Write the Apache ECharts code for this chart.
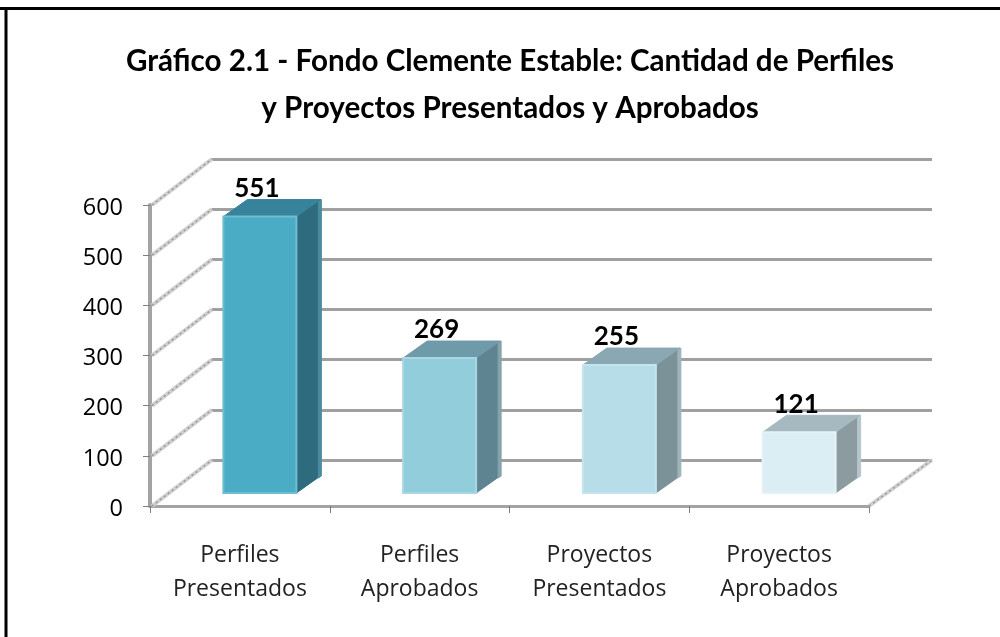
<!DOCTYPE html>
<html><head><meta charset="utf-8">
<style>html,body{margin:0;padding:0;background:#fff}#c{width:1000px;height:637px}</style>
<script src="https://cdn.jsdelivr.net/npm/echarts@6/dist/echarts.min.js"></script>
</head><body><div id="c"></div>
<script>
const categories = ['Perfiles\nPresentados','Perfiles\nAprobados','Proyectos\nPresentados','Proyectos\nAprobados'];
const values = [551,269,255,121];
const tickValues = [0,100,200,300,400,500,600];
const frontColors = ['#4bacc6','#92cddc','#b7dde8','#dbeef4'];
const topColors = ['#37839b','#6f9aa9','#8aa8b2','#a6b9c0'];
const sideColors = ['#2f6b7f','#5e8391','#7b9299','#8b9ba0'];
const edgeColors = ['#6fbdd1','#a8d7e3','#c6e4ed','#e4f2f7'];
const stripColors = ['#4a8c9f','#84a3ae','#9db4bb','#b4c6cb'];
const FONT = 'Lato, "Open Sans", sans-serif';
const LABEL_FONT = '"Open Sans", Lato, sans-serif';
const chart = echarts.init(document.getElementById('c'));
const WALL = [61,-46], SHIFT = 20, BW = 73, FLOOR = -13, D = [24,-17];
chart.setOption({
  animation:false,
  backgroundColor:'#fff',
  title:{text:'Gráfico 2.1 - Fondo Clemente Estable: Cantidad de Perfiles\ny Proyectos Presentados y Aprobados',
    left:505,top:33,textAlign:'center',
    textStyle:{fontFamily:FONT,fontWeight:'bold',fontSize:29.6,lineHeight:47,color:'#000'}},
  graphic:[
    {type:'line',silent:true,z:-1,shape:{x1:0,y1:8.5,x2:1000,y2:8.5},style:{stroke:'#000',lineWidth:3}},
    {type:'line',silent:true,z:-1,shape:{x1:6,y1:7,x2:6,y2:637},style:{stroke:'#000',lineWidth:3}}
  ],
  grid:[
    {left:150,width:719,top:205,height:301},
    {left:212,width:720,top:159,height:301}
  ],
  xAxis:[
    {type:'category',gridIndex:0,data:categories,boundaryGap:true,
      axisLine:{lineStyle:{color:'#a3a3a3',width:3}},
      axisTick:{show:true,alignWithLabel:false,length:7,lineStyle:{color:'#7f7f7f',width:1}},
      axisLabel:{fontFamily:LABEL_FONT,fontSize:23,lineHeight:34,color:'#222',margin:32}},
    {type:'category',gridIndex:1,data:categories,axisLine:{show:false},axisTick:{show:false},axisLabel:{show:false}}
  ],
  yAxis:[
    {type:'value',gridIndex:0,min:0,max:600,interval:100,
      axisLine:{show:true,lineStyle:{color:'#a3a3a3',width:4}},
      axisTick:{show:true,length:7,lineStyle:{color:'#7f7f7f',width:1}},
      splitLine:{show:false},
      axisLabel:{margin:27,formatter:'{a|{value}}',
        rich:{a:{fontFamily:LABEL_FONT,fontSize:23.5,color:'#000',padding:[6,0,0,0]}}}},
    {type:'value',gridIndex:1,min:0,max:600,interval:100,
      axisLine:{show:false},axisTick:{show:false},axisLabel:{show:false},
      splitLine:{show:true,lineStyle:{color:'#a0a0a0',width:3}}}
  ],
  series:[
    {type:'custom',xAxisIndex:0,yAxisIndex:0,z:1,silent:true,
      data:tickValues.map(v=>[v]),
      encode:{y:0},
      renderItem(p,api){
        const a=api.coord([0,api.value(0)]);
        const x0=151, y=a[1];
        const shape={x1:x0+1,y1:y,x2:x0+WALL[0],y2:y+WALL[1]};
        return {type:'group',children:[
          {type:'line',shape,style:{stroke:'#cfcfcf',lineWidth:4}},
          {type:'line',shape,style:{stroke:'#9a9a9a',lineWidth:1.5,lineDash:[2,3]}}
        ]};
      }},
    {type:'custom',xAxisIndex:0,yAxisIndex:0,z:1,silent:true,
      data:[0],
      renderItem(p,api){
        const b=api.coord([3,0]);
        const xr=p.coordSys.x+p.coordSys.width, y=b[1];
        const shape={x1:xr,y1:y,x2:xr+63,y2:y+WALL[1]};
        return {type:'group',children:[
          {type:'line',shape,style:{stroke:'#cfcfcf',lineWidth:4}},
          {type:'line',shape,style:{stroke:'#9a9a9a',lineWidth:1.5,lineDash:[2,3]}}
        ]};
      }},
    {type:'custom',xAxisIndex:0,yAxisIndex:0,z:3,silent:true,
      data:values.map((v,i)=>[i,v]),
      encode:{x:0,y:1},
      renderItem(p,api){
        const i=api.value(0), v=api.value(1);
        const top=api.coord([i,v]), base=api.coord([i,0]);
        const xl=top[0]+SHIFT-BW/2, xr=xl+BW;
        const yt=top[1]+FLOOR, yb=base[1]+FLOOR;
        const poly=(pts,fill)=>({type:'polygon',shape:{points:pts},style:{fill,stroke:fill,lineWidth:1}});
        const sx=xr+D[0];
        return {type:'group',children:[
          poly([[xr,yt],[sx,yt+D[1]],[sx,yb+D[1]],[xr,yb]],sideColors[i]),
          poly([[sx-2,yt+D[1]+1],[sx+1,yt+D[1]],[sx+1,yb+D[1]],[sx-2,yb+D[1]+2]],stripColors[i]),
          poly([[xl,yt],[xl+D[0],yt+D[1]],[sx,yt+D[1]],[xr,yt]],topColors[i]),
          {type:'rect',shape:{x:xl,y:yt,width:BW,height:yb-yt},style:{fill:frontColors[i],stroke:edgeColors[i],lineWidth:2}}
        ]};
      }},
    {type:'custom',xAxisIndex:0,yAxisIndex:0,z:4,silent:true,
      data:values.map((v,i)=>[i,v]),
      encode:{x:0,y:1},
      renderItem(p,api){
        const i=api.value(0), v=api.value(1);
        const top=api.coord([i,v]);
        return {type:'text',style:{text:String(v),x:top[0]+17,y:top[1]+FLOOR-28,
          align:'center',verticalAlign:'middle',fontFamily:FONT,fontWeight:'bold',fontSize:26,fill:'#000'}};
      }}
  ]
});
</script></body></html>
